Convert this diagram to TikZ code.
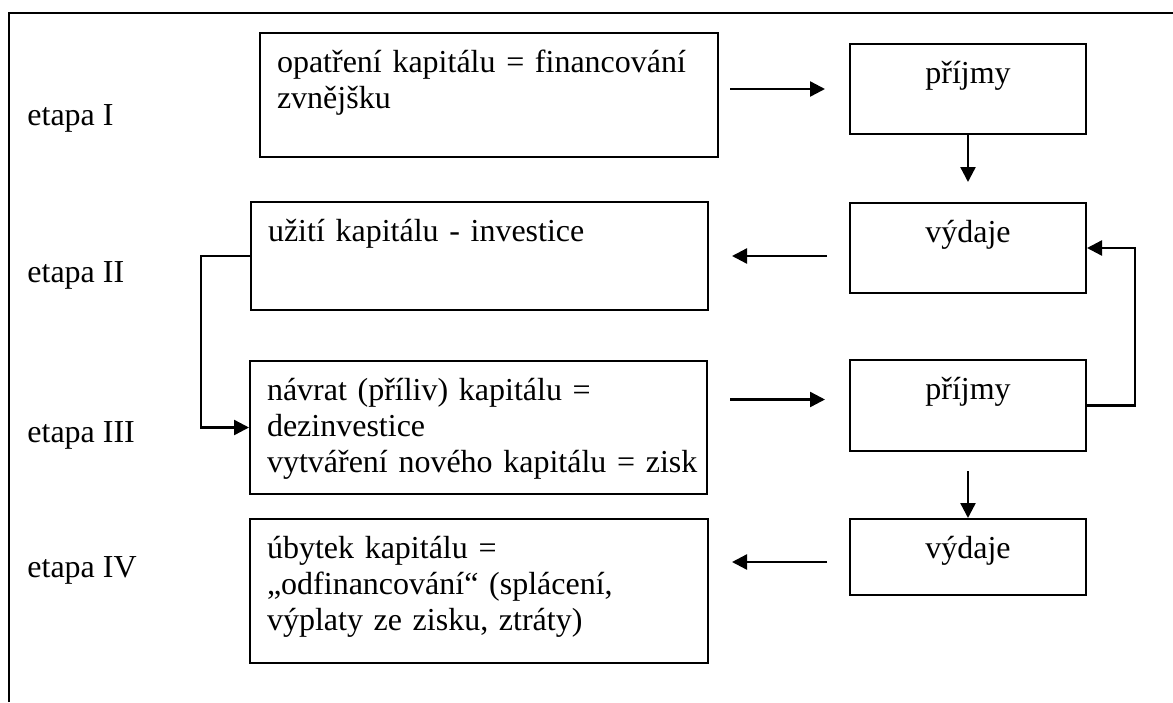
\documentclass[tikz,border=0pt]{standalone}
\usepackage{fontspec}
\setmainfont{Liberation Serif}
\usetikzlibrary{arrows.meta,positioning,calc}

\begin{document}
\begin{tikzpicture}[
    x=0.5pt, y=-0.5pt,
    kapbox/.style={rectangle, draw, line width=1pt, anchor=north west, inner xsep=8.5pt, inner ysep=0pt, text height=19.5pt, align=left, font=\fontsize{16}{18}\selectfont},
    cashbox/.style={kapbox, text width=101pt, align=center},
    etapa/.style={anchor=base west, inner sep=0pt, font=\fontsize{16}{18}\selectfont},
    arrow/.style={-{Triangle[length=7.5pt,width=7.5pt]}, line width=1.2pt}
]
    \useasboundingbox (0,0) rectangle (1173,702);

    % Frame
    \draw[line width=1.2pt] (9,702) -- (9,13) -- (1173,13);

    % Stages
    \node[etapa] (etapa1) at (27,125) {etapa I};
    \node[etapa] (etapa2) at (27,282) {etapa II};
    \node[etapa] (etapa3) at (27,442) {etapa III};
    \node[etapa] (etapa4) at (27,577) {etapa IV};

    % Capital boxes
    \node[kapbox, text width=212pt, text depth=42.5pt] (kap1) at (259,32) {\mbox{opatření kapitálu = financování}\\zvnějšku};
    \node[kapbox, text width=211.5pt, text depth=34.5pt] (kap2) at (250,201) {užití kapitálu - investice};
    \node[kapbox, text width=211.5pt, text depth=47pt] (kap3) at (249,360) {návrat (příliv) kapitálu =\\dezinvestice\\\mbox{vytváření nového kapitálu = zisk}};
    \node[kapbox, text width=212pt, text depth=52.5pt] (kap4) at (249,518) {úbytek kapitálu =\\„odfinancování“ (splácení,\\výplaty ze zisku, ztráty)};

    % Income and expenses
    \node[cashbox, text depth=25.5pt] (prij1) at (849,43) {příjmy};
    \node[cashbox, text depth=25.5pt] (vyd1) at (849,202) {výdaje};
    \node[cashbox, text depth=26pt] (prij2) at (849,359) {příjmy};
    \node[cashbox, text depth=18.5pt] (vyd2) at (849,518) {výdaje};

    % Arrows
    \draw[arrow, shorten <=5.5pt, shorten >=12pt] (kap1.east |- prij1.west) -- (prij1.west);
    \draw[arrow, shorten >=10pt] (prij1.south) -- (vyd1.north);
    \draw[arrow, shorten <=11pt, shorten >=11.5pt] (vyd1.west |- kap2.east) -- (kap2.east);
    \draw[arrow] (kap2.west) -- ++(-49,0) |- (kap3.west);
    \draw[arrow, shorten <=11pt, shorten >=12pt] ($(kap3.east |- prij2.west)+(0,-6)$) -- ($(prij2.west)+(0,-6)$);
    \draw[arrow] (prij2.east) -- ++(48,0) |- (vyd1.east);
    \draw[arrow, shorten <=9.5pt] (prij2.south) -- (vyd2.north);
    \draw[arrow, shorten <=11pt, shorten >=11.5pt] ($(vyd2.west)+(0,5)$) -- ($(vyd2.west -| kap4.east)+(0,5)$);
\end{tikzpicture}
\end{document}
